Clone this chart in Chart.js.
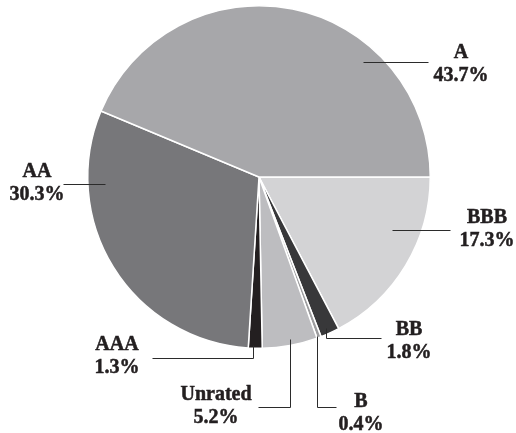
<!DOCTYPE html>
<html>
<head>
<meta charset="utf-8">
<script src="https://cdn.jsdelivr.net/npm/chart.js@4"></script>
<style>
  html, body { margin: 0; padding: 0; background: #fff; }
  #wrap { width: 516px; height: 433px; }
</style>
</head>
<body>
<div id="wrap"><canvas id="pie"></canvas></div>
<script>
// slices, clockwise from 3 o'clock
var ratings = ["BBB", "BB", "B", "Unrated", "AAA", "AA", "A"];
var shares = [17.3, 1.8, 0.4, 5.2, 1.3, 30.3, 43.7];
var sliceColors = ["#d3d3d5", "#38383a", "#9d9d9f", "#bdbdc0", "#231f20", "#77777a", "#a7a7aa"];

// label layout: text centre x, first baseline y, leader polyline
var labelLayout = {
  "A":       { x: 461, y: 58,  line: [[363, 62], [428, 62]] },
  "AA":      { x: 37,  y: 177, line: [[105, 184], [63, 184]] },
  "BBB":     { x: 487, y: 223, line: [[392, 230], [450, 230]] },
  "BB":      { x: 409, y: 335, line: [[326, 328], [326, 338], [381, 338]] },
  "B":       { x: 361, y: 407, line: [[317, 336], [317, 407], [336, 407]] },
  "Unrated": { x: 216, y: 400, line: [[290, 339], [290, 407], [258, 407]] },
  "AAA":     { x: 117, y: 350, line: [[253, 345], [253, 358], [152, 358]] }
};

var leaderLabels = {
  id: "leaderLabels",
  afterDraw: function (chart) {
    var ctx = chart.ctx;
    ctx.save();
    ratings.forEach(function (name, i) {
      var lay = labelLayout[name];
      ctx.strokeStyle = "#2b2b2b";
      ctx.lineWidth = 1;
      ctx.beginPath();
      lay.line.forEach(function (p, k) {
        if (k === 0) ctx.moveTo(p[0] + 0.5, p[1] + 0.5);
        else ctx.lineTo(p[0] + 0.5, p[1] + 0.5);
      });
      ctx.stroke();
      ctx.fillStyle = "#231f20";
      ctx.strokeStyle = "#231f20";
      ctx.lineWidth = 0.5;
      ctx.font = "bold 20px 'Liberation Serif', 'Times New Roman', serif";
      ctx.textAlign = "center";
      ctx.textBaseline = "alphabetic";
      var pct = shares[i].toFixed(1) + "%";
      ctx.fillText(name, lay.x, lay.y);
      ctx.strokeText(name, lay.x, lay.y);
      ctx.fillText(pct, lay.x, lay.y + 23);
      ctx.strokeText(pct, lay.x, lay.y + 23);
    });
    ctx.restore();
  }
};

new Chart(document.getElementById("pie"), {
  type: "pie",
  data: {
    labels: ratings,
    datasets: [{
      data: shares,
      backgroundColor: sliceColors,
      borderColor: "#ffffff",
      borderWidth: 1.5
    }]
  },
  options: {
    responsive: true,
    maintainAspectRatio: false,
    animation: false,
    rotation: 90,
    layout: { padding: { top: 5, bottom: 84, left: 87, right: 85 } },
    plugins: {
      legend: { display: false },
      tooltip: { enabled: false }
    }
  },
  plugins: [leaderLabels]
});
</script>
</body>
</html>
